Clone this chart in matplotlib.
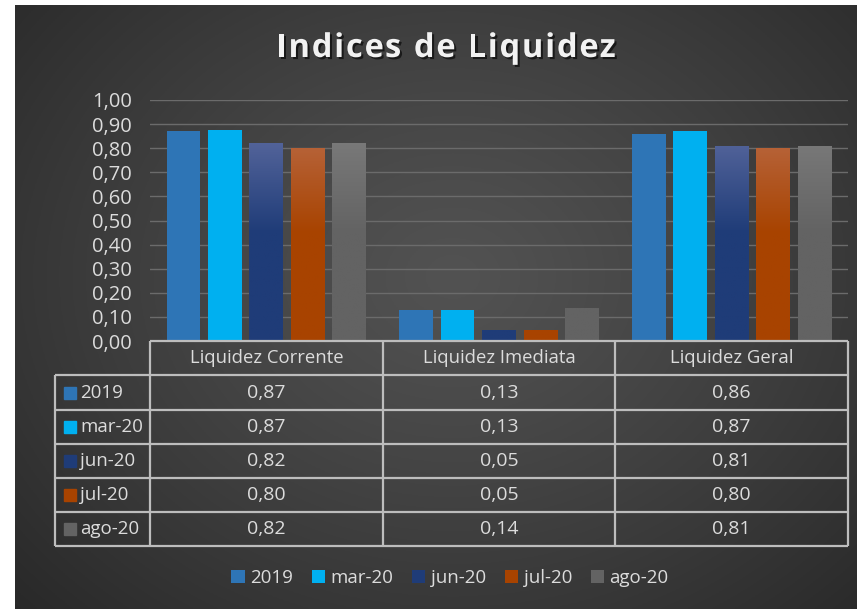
import numpy as np
import matplotlib.pyplot as plt
import matplotlib.patheffects as pe
from matplotlib.colors import to_rgb
from matplotlib.patches import Patch, Rectangle

plt.rcParams["font.family"] = ["Open Sans", "DejaVu Sans"]

# data
categories = ["Liquidez Corrente", "Liquidez Imediata", "Liquidez Geral"]
series = ["2019", "mar-20", "jun-20", "jul-20", "ago-20"]
v2019 = [0.87, 0.13, 0.86]
vmar20 = [0.874, 0.13, 0.87]
vjun20 = [0.82, 0.046, 0.81]
vjul20 = [0.80, 0.046, 0.80]
vago20 = [0.82, 0.136, 0.81]
values = [v2019, vmar20, vjun20, vjul20, vago20]
title = "Indices de Liquidez"

colors = ["#2e75b6", "#00b0f0", "#1f3c78", "#a84300", "#636363"]
top_colors = [None, None, "#56669c", "#b8663e", "#7a7a7a"]
text_col = "#dcdcdc"
line_col = "#bdbdbd"

W, H = 857, 609
fig = plt.figure(figsize=(W / 100, H / 100), dpi=100, facecolor="white")


def box(x0, y0, x1, y1):
    return [x0 / W, 1 - y1 / H, (x1 - x0) / W, (y1 - y0) / H]


# dark background with soft radial light
bg = fig.add_axes(box(15, 5, W, H))
bg.axis("off")
yy, xx = np.mgrid[0:1:300j, 0:1:420j]
r = np.sqrt(((xx - 0.52) / 0.75) ** 2 + ((yy - 0.45) / 0.85) ** 2)
r = np.clip(r, 0, 1)
c_in = np.array(to_rgb("#525252"))
c_out = np.array(to_rgb("#262626"))
img = c_in + (c_out - c_in) * r[..., None] ** 1.2
bg.imshow(img, extent=[0, 1, 0, 1], aspect="auto", origin="upper")
bg.set_xlim(0, 1)
bg.set_ylim(0, 1)

# bars
ax = fig.add_axes(box(150, 100, 848, 341))
ax.patch.set_alpha(0)
x = np.arange(len(categories))
width = 0.145
step = 0.178
for i, (name, vals) in enumerate(zip(series, values)):
    bars = ax.bar(x + (i - 2) * step, vals, width, color=colors[i], zorder=3)
    if top_colors[i] is None:
        continue
    bot = np.array(to_rgb(colors[i]))
    top = np.array(to_rgb(top_colors[i]))
    t = np.clip((np.linspace(0, 0.9, 200) - 0.45) / 0.4, 0, 1)
    grad = (bot + (top - bot) * t[:, None])[:, None, :]
    for b in bars:
        im = ax.imshow(grad, extent=[b.get_x(), b.get_x() + b.get_width(), 0, 0.9],
                       origin="lower", aspect="auto", zorder=3.5)
        im.set_clip_path(b)

ax.set_xlim(-0.5, len(categories) - 0.5)
ax.set_ylim(0, 1)
ax.set_yticks(np.arange(0, 1.01, 0.1))
ax.set_yticklabels([f"{v:.2f}".replace(".", ",") for v in np.arange(0, 1.01, 0.1)])
ax.set_xticks([])
ax.tick_params(axis="y", length=0, pad=13, labelsize=14.5, labelcolor=text_col)
ax.yaxis.grid(True, color="#6b6b6b", linewidth=1, zorder=0)
for s in ax.spines.values():
    s.set_visible(False)

# data table (pixel coordinates)
tb = fig.add_axes([0, 0, 1, 1])
tb.axis("off")
tb.set_xlim(0, W)
tb.set_ylim(H, 0)
col_edges = [150, 383, 615, 848]
row_edges = [341, 375, 410, 444, 478, 512, 546]
tb.hlines(row_edges[0], col_edges[0], col_edges[-1], color=line_col, lw=1.6)
tb.hlines(row_edges[1:], 55, col_edges[-1], color=line_col, lw=1.6)
tb.vlines(col_edges, row_edges[0], row_edges[-1], color=line_col, lw=1.6)
tb.vlines(55, row_edges[1], row_edges[-1], color=line_col, lw=1.6)

for j, cat in enumerate(categories):
    cx = (col_edges[j] + col_edges[j + 1]) / 2
    tb.text(cx, (row_edges[0] + row_edges[1]) / 2, cat, ha="center", va="center",
            fontsize=13.3, color=text_col)

for i, (name, vals) in enumerate(zip(series, values)):
    cy = (row_edges[i + 1] + row_edges[i + 2]) / 2
    tb.add_patch(Rectangle((64, cy - 6), 12, 12, color=colors[i]))
    tb.text(80, cy, name, ha="left", va="center", fontsize=13.5, color=text_col)
    for j, v in enumerate(vals):
        cx = (col_edges[j] + col_edges[j + 1]) / 2
        tb.text(cx, cy, f"{v:.2f}".replace(".", ","), ha="center", va="center",
                fontsize=14, color=text_col)

# title, spread out letter by letter
renderer = fig.canvas.get_renderer()
tkw = dict(fontsize=23.5, fontweight="bold")


def text_w(s):
    t = tb.text(0, 0, s, **tkw)
    w = t.get_window_extent(renderer).width
    t.remove()
    return w


ref_w = text_w("x")
full_w = text_w(title)
target_w = 340
gap = (target_w - full_w) / (len(title) - 1)
x_left = 446 - target_w / 2
shadow = [pe.withSimplePatchShadow(offset=(1.5, -1.5), shadow_rgbFace="black", alpha=0.6)]
for k, ch in enumerate(title):
    xk = x_left + (text_w(title[:k] + "x") - ref_w if k else 0) + k * gap
    tb.text(xk, 57, ch, ha="left", va="baseline", color="#f2f2f2",
            path_effects=shadow, **tkw)

# legend
handles = [Patch(facecolor=c) for c in colors]
fig.legend(handles, series, loc="center", bbox_to_anchor=(450 / W, 1 - 578 / H),
           ncol=5, frameon=False, fontsize=13.5, labelcolor=text_col,
           handlelength=0.7, handleheight=0.7, handletextpad=0.3, columnspacing=1.0)

fig.savefig("out.png", dpi=100, facecolor=fig.get_facecolor())
